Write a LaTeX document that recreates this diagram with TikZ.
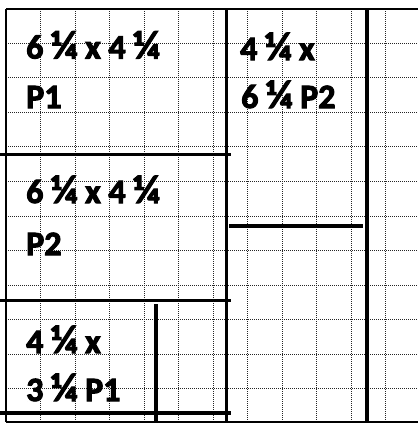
\documentclass[tikz,border=0pt]{standalone}
\usepackage{fontspec}
\setmainfont{Carlito}[BoldFeatures={FakeBold=3}]
\newcommand\qtr{{\fontsize{40}{40}\selectfont ¼}}
\begin{document}
\begin{tikzpicture}[x=1pt,y=-1pt,
  gridline/.style={black!85,line width=0.9pt,dash pattern=on 1pt off 1pt},
  border/.style={black,line width=1.8pt},
  heavy/.style={black,line width=3.2pt},
  lbl/.style={anchor=base west,inner sep=0pt,font=\fontsize{34}{34}\selectfont\bfseries}]
\useasboundingbox (0,0) rectangle (418,423);
\fill[white] (0,0) rectangle (418,423);
% grid
\foreach \k in {1,...,11} {
  \draw[gridline] ({6+34.5*\k},9) -- ({6+34.5*\k},422);
  \draw[gridline] (6,{8.7+34.55*\k}) -- (418,{8.7+34.55*\k});
}
% borders
\coordinate (tl) at (6,9);
\coordinate (tr) at (418,9);
\coordinate (bl) at (6,422);
\coordinate (br) at (418,422);
\draw[border] (tl) -- (tr);
\draw[border] (bl) -- (br);
\draw[border] (tl) -- (bl);
% heavy cuts
\coordinate (v1t) at (226.5,8);
\coordinate (v1b) at (226.5,423);
\coordinate (v2t) at (367,8);
\coordinate (v2b) at (367,423);
\draw[heavy] (v1t) -- (v1b);
\draw[heavy] (v2t) -- (v2b);
\coordinate (h1a) at (0,154.5);
\coordinate (h1b) at (231,154.5);
\draw[heavy] (h1a) -- (h1b);
\coordinate (h2a) at (0,300.5);
\coordinate (h2b) at (231,300.5);
\draw[heavy] (h2a) -- (h2b);
\coordinate (h3a) at (0,413);
\coordinate (h3b) at (231,413);
\draw[heavy] (h3a) -- (h3b);
\coordinate (h4a) at (229,226);
\coordinate (h4b) at (363,226);
\draw[heavy] (h4a) -- (h4b);
\coordinate (v3t) at (156,304);
\coordinate (v3b) at (156,423);
\draw[heavy] (v3t) -- (v3b);
% labels
\node[lbl] (a1) at (26,58.5) {6 \qtr{} x 4 \qtr};
\node[lbl] (a2) at (26,108) {P1};
\node[lbl] (b1) at (240,60) {4 \qtr{} x};
\node[lbl] (b2) at (241,108) {6 \qtr{} P2};
\node[lbl] (c1) at (26,203) {6 \qtr{} x 4 \qtr};
\node[lbl] (c2) at (26,255) {P2};
\node[lbl] (d1) at (26,353) {4 \qtr{} x};
\node[lbl] (d2) at (26,401) {3 \qtr{} P1};
\end{tikzpicture}
\end{document}
